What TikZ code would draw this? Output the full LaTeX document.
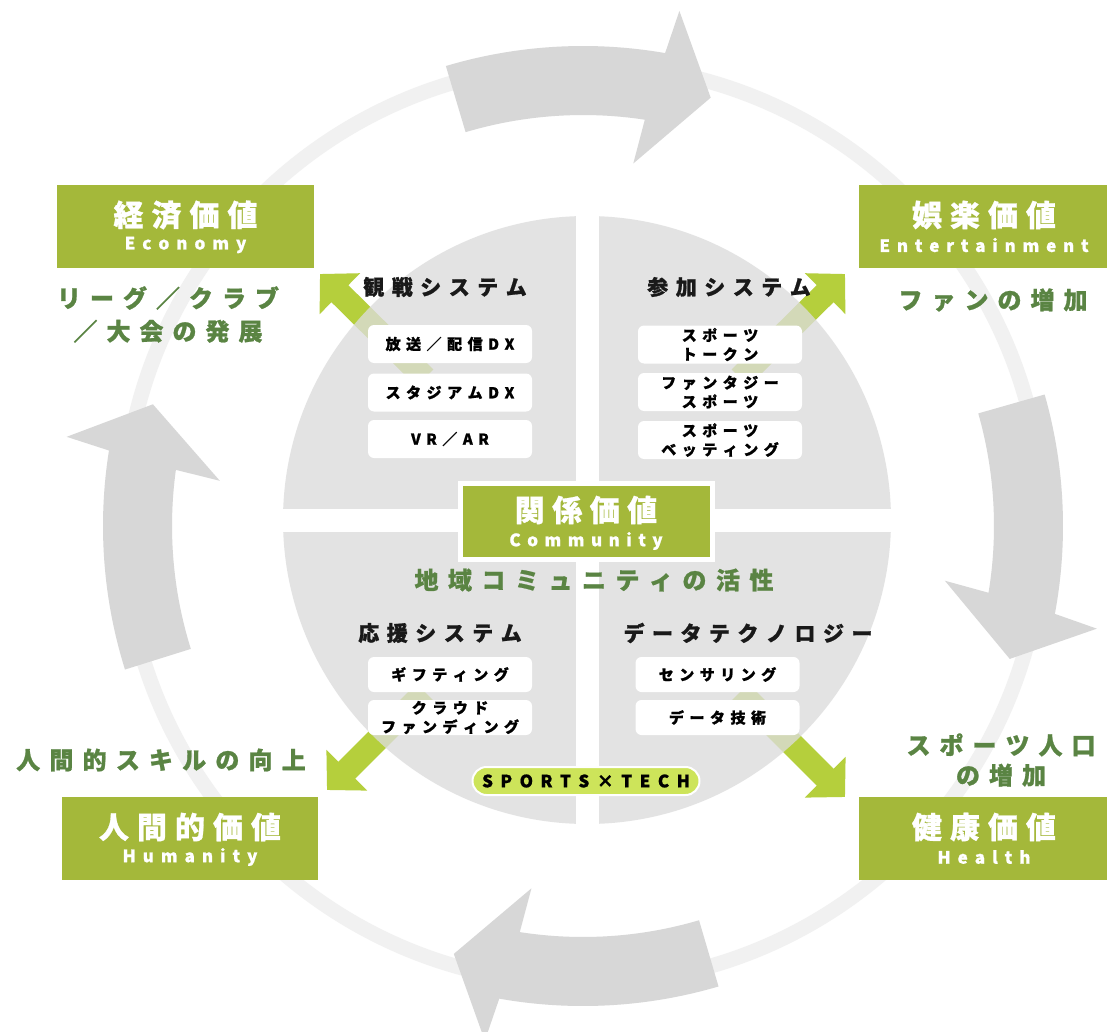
\documentclass[tikz,border=0pt]{standalone}
\usepackage{fontspec}
\setmainfont{Noto Sans CJK JP}[BoldFeatures={FakeBold=0.9}]
\usetikzlibrary{arrows.meta,calc}
\definecolor{boxgreen}{HTML}{A4B83A}
\definecolor{labgreen}{HTML}{5A8443}
\definecolor{arrgreen}{HTML}{B5CF3C}
\definecolor{pillgreen}{HTML}{CDE45A}
\definecolor{bigarrow}{HTML}{D7D7D7}
\definecolor{discgray}{HTML}{DCDCDC}
\definecolor{ringgray}{HTML}{F1F1F1}
\ExplSyntaxOn
\NewDocumentCommand\LS{mm}{\tl_map_inline:nn{#2}{##1\kern#1}\kern-#1\relax}
\ExplSyntaxOff
\newcommand\bigarr[1]{%
 \fill[bigarrow] ($(AC)+({-(#1)-16.6}:480)$) arc[start angle={-(#1)-16.6}, end angle={-(#1)+9.85}, radius=480]
 -- ($(AC)+({-(#1)+10.6}:524)$) -- ($(AC)+({-(#1)+16.6}:447)$) -- ($(AC)+({-(#1)+7.9}:366)$)
 -- ($(AC)+({-(#1)+8.65}:411)$) arc[start angle={-(#1)+8.65}, end angle={-(#1)-16.6}, radius=411] -- cycle;}
\tikzset{
 valbox/.style={fill=boxgreen, minimum width=257, minimum height=83, inner sep=0pt},
 valtitle/.style={text=white, font=\bfseries\fontsize{30}{32}\selectfont, inner sep=0pt},
 valsub/.style={text=white, font=\bfseries\fontsize{17}{19}\selectfont, inner sep=0pt},
 lab/.style={text=labgreen, font=\bfseries\fontsize{24}{33}\selectfont, align=center, inner sep=0pt},
 head/.style={text=black!90, font=\bfseries\fontsize{21}{24}\selectfont, inner sep=0pt},
 wbox/.style={fill=white, rounded corners=6pt, minimum width=164, minimum height=38, inner sep=0pt,
   align=center, font=\bfseries\fontsize{15}{19}\selectfont},
 garr/.style={draw=arrgreen, line width=24pt, -{Triangle[width=56pt,length=28pt]}},
 pill/.style={fill=pillgreen, draw=white, line width=2pt, rounded corners=14pt, minimum width=227,
   minimum height=28, inner sep=0pt, font=\bfseries\fontsize{17}{19}\selectfont}
}
\begin{document}
\begin{tikzpicture}[x=1pt,y=-1pt]
\fill[white] (0,0) rectangle (1107,1032);
\useasboundingbox (0,0) rectangle (1107,1032);
\coordinate (AC) at (583,526);
\coordinate (DC) at (587,520);
% thin ring
\draw[ringgray, line width=15pt] (583,524) circle (460);
% big cycle arrows
\bigarr{90}
\bigarr{-0.7}
\bigarr{-90.2}
\bigarr{180.8}
% green arrows
\coordinate (g1s) at (425,378); \coordinate (g1t) at (320,274);
\coordinate (g2s) at (740,378); \coordinate (g2t) at (845,274);
\coordinate (g3s) at (425,692); \coordinate (g3t) at (327,790);
\coordinate (g4s) at (740,692); \coordinate (g4t) at (845,797);
\draw[garr] (g1s) -- (g1t);
\draw[garr] (g2s) -- (g2t);
\draw[garr] (g3s) -- (g3t);
\draw[garr] (g4s) -- (g4t);
% disc
\begin{scope}
\clip (DC) circle (304);
\fill[discgray, opacity=.78] (250,180) rectangle (575.5,508.5);
\fill[discgray, opacity=.78] (598.5,180) rectangle (920,508.5);
\fill[discgray, opacity=.78] (250,531.5) rectangle (575.5,860);
\fill[discgray, opacity=.78] (598.5,531.5) rectangle (920,860);
\end{scope}
% headers
\node[head] (h1) at (445,287) {\LS{7.5pt}{観戦システム}};
\node[head] (h2) at (729,287) {\LS{7.5pt}{参加システム}};
\node[head] (h3) at (440,633) {\LS{7.5pt}{応援システム}};
\node[head] (h4) at (748,633) {\LS{7.5pt}{データテクノロジー}};
% white boxes
\node[wbox] (b1) at (450,344) {\LS{5.5pt}{放送／配信DX}};
\node[wbox] (b2) at (450,392.5) {\LS{5.5pt}{スタジアムDX}};
\node[wbox] (b3) at (450,439) {\LS{5.5pt}{VR／AR}};
\node[wbox] (b4) at (720,344.5) {\LS{5.5pt}{スポーツ}\\\LS{5.5pt}{トークン}};
\node[wbox] (b5) at (720,392) {\LS{5.5pt}{ファンタジー}\\\LS{5.5pt}{スポーツ}};
\node[wbox] (b6) at (720,440) {\LS{5.5pt}{スポーツ}\\\LS{5.5pt}{ベッティング}};
\node[wbox, minimum height=35] (b7) at (450,674.5) {\LS{5.5pt}{ギフティング}};
\node[wbox, minimum height=35] (b8) at (450,717.5) {\LS{5.5pt}{クラウド}\\\LS{5.5pt}{ファンディング}};
\node[wbox, minimum height=35] (b9) at (717.5,674.5) {\LS{5.5pt}{センサリング}};
\node[wbox, minimum height=35] (b10) at (717.5,717.5) {\LS{5.5pt}{データ技術}};
% central box
\node[valbox, minimum width=252, minimum height=76, draw=white, line width=5pt] (com) at (586,521) {};
\node[valtitle] (comt) at (586,510) {\LS{7.5pt}{関係価値}};
\node[valsub] (coms) at (586,541) {\LS{6.5pt}{Community}};
\node[lab] (coml) at (594,580) {\LS{9.5pt}{地域コミュニティの活性}};
% pill
\node[pill] (st) at (586,781) {\LS{7.5pt}{SPORTS×TECH}};
% value boxes
\node[valbox] (eco) at (185.5,226.5) {};
\node[valtitle] (ecot) at (185.5,215) {\LS{8pt}{経済価値}};
\node[valsub] (ecos) at (185.5,245) {\LS{7pt}{Economy}};
\node[valbox, minimum width=250] (ent) at (984,226.5) {};
\node[valtitle] (entt) at (984,215) {\LS{8pt}{娯楽価値}};
\node[valsub] (ents) at (984,245) {\LS{6.8pt}{Entertainment}};
\node[valbox, minimum width=256] (hum) at (190,838.5) {};
\node[valtitle] (humt) at (190,827) {\LS{8pt}{人間的価値}};
\node[valsub] (hums) at (190,857) {\LS{7pt}{Humanity}};
\node[valbox, minimum width=250] (hea) at (984,838.5) {};
\node[valtitle] (heat) at (984,827) {\LS{8pt}{健康価値}};
\node[valsub] (heas) at (984,857) {\LS{7pt}{Health}};
% green labels
\node[lab] (l1) at (168,314.5) {\LS{9pt}{リーグ／クラブ}\\\LS{9pt}{／大会の発展}};
\node[lab] (l2) at (993,300) {\LS{9pt}{ファンの増加}};
\node[lab] (l3) at (161,760) {\LS{9.2pt}{人間的スキルの向上}};
\node[lab, font=\bfseries\fontsize{24}{30}\selectfont] (l4) at (1001,760) {\LS{9pt}{スポーツ人口}\\\LS{9pt}{の増加}};
\end{tikzpicture}
\end{document}
